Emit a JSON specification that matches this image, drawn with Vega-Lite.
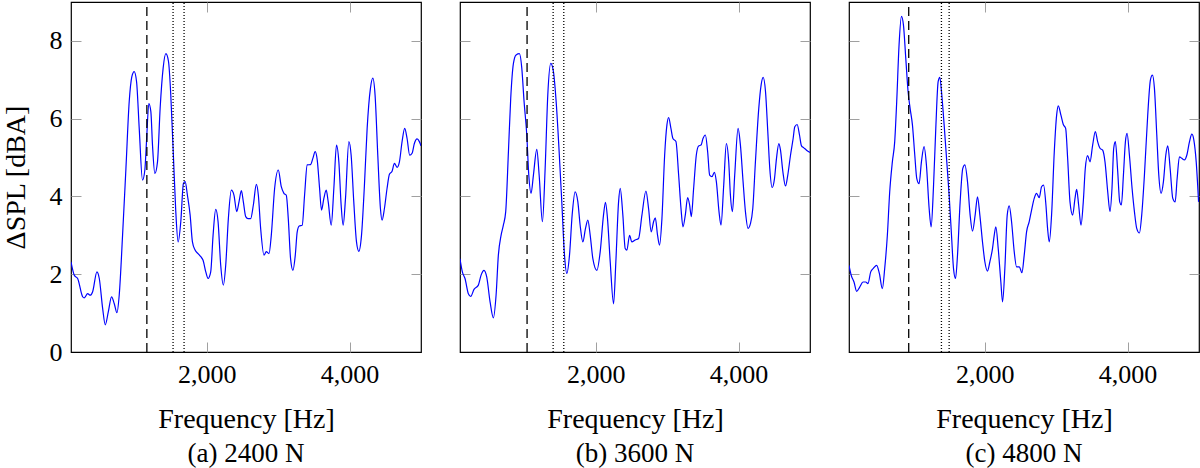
{
  "$schema": "https://vega.github.io/schema/vega-lite/v6.json",
  "description": "Delta SPL spectra for three loads, with marker frequencies.",
  "padding": {"left": 1, "top": 0, "right": 0, "bottom": 0},
  "spacing": 39,
  "bounds": "flush",
  "datasets": {
    "a": [
      {"frequency": 100, "dspl": 2.32}, {"frequency": 147, "dspl": 1.97}, {"frequency": 193, "dspl": 1.89}, {"frequency": 263, "dspl": 1.42},
      {"frequency": 286, "dspl": 1.39}, {"frequency": 333, "dspl": 1.5}, {"frequency": 370, "dspl": 1.46}, {"frequency": 403, "dspl": 1.55},
      {"frequency": 463, "dspl": 2.06}, {"frequency": 496, "dspl": 1.89}, {"frequency": 543, "dspl": 1.12}, {"frequency": 580, "dspl": 0.7},
      {"frequency": 622, "dspl": 1.03}, {"frequency": 668, "dspl": 1.42}, {"frequency": 706, "dspl": 1.24}, {"frequency": 743, "dspl": 1.01},
      {"frequency": 775, "dspl": 1.46}, {"frequency": 822, "dspl": 3.0}, {"frequency": 869, "dspl": 4.72}, {"frequency": 915, "dspl": 6.44},
      {"frequency": 952, "dspl": 7.08}, {"frequency": 985, "dspl": 7.21}, {"frequency": 1018, "dspl": 6.95}, {"frequency": 1055, "dspl": 5.75},
      {"frequency": 1101, "dspl": 4.42}, {"frequency": 1134, "dspl": 4.68}, {"frequency": 1157, "dspl": 5.41}, {"frequency": 1190, "dspl": 6.39},
      {"frequency": 1218, "dspl": 6.18}, {"frequency": 1241, "dspl": 5.32}, {"frequency": 1274, "dspl": 4.59}, {"frequency": 1311, "dspl": 4.89},
      {"frequency": 1348, "dspl": 6.27}, {"frequency": 1390, "dspl": 7.3}, {"frequency": 1428, "dspl": 7.67}, {"frequency": 1465, "dspl": 7.47},
      {"frequency": 1497, "dspl": 6.61}, {"frequency": 1535, "dspl": 4.98}, {"frequency": 1567, "dspl": 3.61}, {"frequency": 1600, "dspl": 2.83},
      {"frequency": 1637, "dspl": 3.35}, {"frequency": 1674, "dspl": 4.33}, {"frequency": 1698, "dspl": 4.38}, {"frequency": 1730, "dspl": 4.03},
      {"frequency": 1768, "dspl": 3.52}, {"frequency": 1800, "dspl": 2.83}, {"frequency": 1837, "dspl": 2.62}, {"frequency": 1879, "dspl": 2.53},
      {"frequency": 1917, "dspl": 2.45}, {"frequency": 1949, "dspl": 2.36}, {"frequency": 1987, "dspl": 2.06}, {"frequency": 2019, "dspl": 1.89},
      {"frequency": 2056, "dspl": 2.06}, {"frequency": 2089, "dspl": 3.0}, {"frequency": 2126, "dspl": 3.67}, {"frequency": 2159, "dspl": 3.35},
      {"frequency": 2196, "dspl": 2.23}, {"frequency": 2233, "dspl": 1.72}, {"frequency": 2266, "dspl": 2.23}, {"frequency": 2303, "dspl": 3.43},
      {"frequency": 2345, "dspl": 4.16}, {"frequency": 2382, "dspl": 4.03}, {"frequency": 2420, "dspl": 3.61}, {"frequency": 2452, "dspl": 3.86},
      {"frequency": 2485, "dspl": 4.15}, {"frequency": 2513, "dspl": 3.86}, {"frequency": 2546, "dspl": 3.48}, {"frequency": 2578, "dspl": 3.43},
      {"frequency": 2615, "dspl": 3.43}, {"frequency": 2653, "dspl": 3.78}, {"frequency": 2695, "dspl": 4.31}, {"frequency": 2723, "dspl": 4.03},
      {"frequency": 2755, "dspl": 3.18}, {"frequency": 2802, "dspl": 2.49}, {"frequency": 2834, "dspl": 2.58}, {"frequency": 2872, "dspl": 2.53},
      {"frequency": 2904, "dspl": 3.0}, {"frequency": 2951, "dspl": 4.21}, {"frequency": 3002, "dspl": 4.68}, {"frequency": 3044, "dspl": 4.25},
      {"frequency": 3081, "dspl": 4.08}, {"frequency": 3114, "dspl": 4.03}, {"frequency": 3142, "dspl": 3.43}, {"frequency": 3174, "dspl": 2.4},
      {"frequency": 3207, "dspl": 2.1}, {"frequency": 3240, "dspl": 2.49}, {"frequency": 3267, "dspl": 3.09}, {"frequency": 3295, "dspl": 3.24},
      {"frequency": 3337, "dspl": 3.26}, {"frequency": 3370, "dspl": 4.03}, {"frequency": 3407, "dspl": 4.81}, {"frequency": 3454, "dspl": 4.82},
      {"frequency": 3486, "dspl": 4.98}, {"frequency": 3519, "dspl": 5.15}, {"frequency": 3547, "dspl": 4.94}, {"frequency": 3580, "dspl": 4.21},
      {"frequency": 3607, "dspl": 3.65}, {"frequency": 3640, "dspl": 3.95}, {"frequency": 3673, "dspl": 4.16}, {"frequency": 3701, "dspl": 3.86},
      {"frequency": 3743, "dspl": 3.26}, {"frequency": 3780, "dspl": 4.21}, {"frequency": 3817, "dspl": 5.32}, {"frequency": 3850, "dspl": 4.89},
      {"frequency": 3882, "dspl": 3.78}, {"frequency": 3910, "dspl": 3.26}, {"frequency": 3943, "dspl": 3.95}, {"frequency": 3990, "dspl": 5.41},
      {"frequency": 4022, "dspl": 5.06}, {"frequency": 4059, "dspl": 3.86}, {"frequency": 4097, "dspl": 2.83}, {"frequency": 4129, "dspl": 2.59},
      {"frequency": 4167, "dspl": 3.0}, {"frequency": 4208, "dspl": 4.29}, {"frequency": 4246, "dspl": 5.75}, {"frequency": 4292, "dspl": 6.78},
      {"frequency": 4325, "dspl": 7.04}, {"frequency": 4357, "dspl": 6.61}, {"frequency": 4395, "dspl": 5.06}, {"frequency": 4432, "dspl": 3.69},
      {"frequency": 4455, "dspl": 3.39}, {"frequency": 4488, "dspl": 3.69}, {"frequency": 4525, "dspl": 4.21}, {"frequency": 4558, "dspl": 4.57},
      {"frequency": 4595, "dspl": 4.65}, {"frequency": 4628, "dspl": 4.85}, {"frequency": 4665, "dspl": 4.75}, {"frequency": 4698, "dspl": 4.89},
      {"frequency": 4735, "dspl": 5.41}, {"frequency": 4772, "dspl": 5.75}, {"frequency": 4805, "dspl": 5.49}, {"frequency": 4842, "dspl": 5.06},
      {"frequency": 4875, "dspl": 5.11}, {"frequency": 4907, "dspl": 5.36}, {"frequency": 4945, "dspl": 5.48}, {"frequency": 4977, "dspl": 5.41},
      {"frequency": 5000, "dspl": 5.3}
    ],
    "b": [
      {"frequency": 100, "dspl": 2.4}, {"frequency": 133, "dspl": 2.06}, {"frequency": 170, "dspl": 1.89}, {"frequency": 217, "dspl": 1.5},
      {"frequency": 250, "dspl": 1.43}, {"frequency": 296, "dspl": 1.61}, {"frequency": 357, "dspl": 1.72}, {"frequency": 394, "dspl": 1.97},
      {"frequency": 436, "dspl": 2.1}, {"frequency": 474, "dspl": 1.93}, {"frequency": 521, "dspl": 1.29}, {"frequency": 567, "dspl": 0.88},
      {"frequency": 605, "dspl": 1.46}, {"frequency": 637, "dspl": 2.49}, {"frequency": 675, "dspl": 3.0}, {"frequency": 707, "dspl": 3.26},
      {"frequency": 740, "dspl": 3.61}, {"frequency": 778, "dspl": 5.15}, {"frequency": 810, "dspl": 6.52}, {"frequency": 848, "dspl": 7.42},
      {"frequency": 885, "dspl": 7.64}, {"frequency": 932, "dspl": 7.67}, {"frequency": 965, "dspl": 7.3}, {"frequency": 997, "dspl": 6.44},
      {"frequency": 1035, "dspl": 5.58}, {"frequency": 1063, "dspl": 4.55}, {"frequency": 1095, "dspl": 4.08}, {"frequency": 1128, "dspl": 4.55},
      {"frequency": 1175, "dspl": 5.21}, {"frequency": 1208, "dspl": 4.55}, {"frequency": 1254, "dspl": 3.35}, {"frequency": 1292, "dspl": 4.72},
      {"frequency": 1329, "dspl": 6.61}, {"frequency": 1371, "dspl": 7.42}, {"frequency": 1408, "dspl": 7.21}, {"frequency": 1446, "dspl": 6.44},
      {"frequency": 1488, "dspl": 5.15}, {"frequency": 1525, "dspl": 3.86}, {"frequency": 1563, "dspl": 2.49}, {"frequency": 1595, "dspl": 2.02},
      {"frequency": 1633, "dspl": 2.49}, {"frequency": 1670, "dspl": 3.52}, {"frequency": 1712, "dspl": 4.12}, {"frequency": 1750, "dspl": 3.86},
      {"frequency": 1782, "dspl": 3.26}, {"frequency": 1820, "dspl": 2.83}, {"frequency": 1857, "dspl": 3.18}, {"frequency": 1890, "dspl": 3.39},
      {"frequency": 1923, "dspl": 3.0}, {"frequency": 1960, "dspl": 2.4}, {"frequency": 2016, "dspl": 2.1}, {"frequency": 2063, "dspl": 2.58},
      {"frequency": 2109, "dspl": 3.52}, {"frequency": 2137, "dspl": 3.85}, {"frequency": 2165, "dspl": 3.43}, {"frequency": 2203, "dspl": 2.32},
      {"frequency": 2250, "dspl": 1.24}, {"frequency": 2282, "dspl": 2.32}, {"frequency": 2320, "dspl": 3.86}, {"frequency": 2343, "dspl": 4.21},
      {"frequency": 2380, "dspl": 3.52}, {"frequency": 2413, "dspl": 2.66}, {"frequency": 2436, "dspl": 2.62}, {"frequency": 2474, "dspl": 3.0},
      {"frequency": 2506, "dspl": 2.83}, {"frequency": 2553, "dspl": 2.88}, {"frequency": 2600, "dspl": 2.92}, {"frequency": 2647, "dspl": 3.52},
      {"frequency": 2703, "dspl": 4.14}, {"frequency": 2740, "dspl": 3.69}, {"frequency": 2777, "dspl": 3.09}, {"frequency": 2810, "dspl": 3.35},
      {"frequency": 2834, "dspl": 3.45}, {"frequency": 2866, "dspl": 3.0}, {"frequency": 2894, "dspl": 2.75}, {"frequency": 2927, "dspl": 3.43},
      {"frequency": 2965, "dspl": 5.06}, {"frequency": 2997, "dspl": 5.84}, {"frequency": 3021, "dspl": 6.03}, {"frequency": 3053, "dspl": 5.75},
      {"frequency": 3081, "dspl": 5.49}, {"frequency": 3123, "dspl": 5.41}, {"frequency": 3161, "dspl": 4.55}, {"frequency": 3194, "dspl": 3.69},
      {"frequency": 3222, "dspl": 3.22}, {"frequency": 3254, "dspl": 3.52}, {"frequency": 3287, "dspl": 3.97}, {"frequency": 3315, "dspl": 3.78},
      {"frequency": 3338, "dspl": 3.48}, {"frequency": 3371, "dspl": 4.21}, {"frequency": 3408, "dspl": 5.06}, {"frequency": 3441, "dspl": 5.3},
      {"frequency": 3474, "dspl": 5.32}, {"frequency": 3502, "dspl": 5.49}, {"frequency": 3535, "dspl": 5.58}, {"frequency": 3567, "dspl": 5.15},
      {"frequency": 3595, "dspl": 4.55}, {"frequency": 3628, "dspl": 4.51}, {"frequency": 3661, "dspl": 4.62}, {"frequency": 3689, "dspl": 4.38},
      {"frequency": 3726, "dspl": 3.61}, {"frequency": 3754, "dspl": 3.26}, {"frequency": 3792, "dspl": 4.29}, {"frequency": 3829, "dspl": 5.36},
      {"frequency": 3862, "dspl": 4.89}, {"frequency": 3886, "dspl": 4.03}, {"frequency": 3914, "dspl": 3.61}, {"frequency": 3946, "dspl": 4.55},
      {"frequency": 3993, "dspl": 5.75}, {"frequency": 4026, "dspl": 5.32}, {"frequency": 4063, "dspl": 4.38}, {"frequency": 4096, "dspl": 3.61},
      {"frequency": 4133, "dspl": 3.18}, {"frequency": 4166, "dspl": 3.3}, {"frequency": 4199, "dspl": 3.69}, {"frequency": 4236, "dspl": 4.89},
      {"frequency": 4283, "dspl": 6.27}, {"frequency": 4316, "dspl": 6.87}, {"frequency": 4344, "dspl": 7.06}, {"frequency": 4377, "dspl": 6.7},
      {"frequency": 4409, "dspl": 5.67}, {"frequency": 4437, "dspl": 4.72}, {"frequency": 4470, "dspl": 4.23}, {"frequency": 4503, "dspl": 4.46},
      {"frequency": 4531, "dspl": 4.98}, {"frequency": 4564, "dspl": 5.36}, {"frequency": 4587, "dspl": 5.19}, {"frequency": 4620, "dspl": 4.64},
      {"frequency": 4657, "dspl": 4.27}, {"frequency": 4689, "dspl": 4.55}, {"frequency": 4727, "dspl": 5.06}, {"frequency": 4764, "dspl": 5.49},
      {"frequency": 4787, "dspl": 5.79}, {"frequency": 4820, "dspl": 5.85}, {"frequency": 4853, "dspl": 5.58}, {"frequency": 4881, "dspl": 5.3},
      {"frequency": 4914, "dspl": 5.25}, {"frequency": 4951, "dspl": 5.19}, {"frequency": 5000, "dspl": 5.13}
    ],
    "c": [
      {"frequency": 100, "dspl": 2.23}, {"frequency": 133, "dspl": 1.96}, {"frequency": 170, "dspl": 1.8}, {"frequency": 207, "dspl": 1.56},
      {"frequency": 250, "dspl": 1.67}, {"frequency": 296, "dspl": 1.8}, {"frequency": 334, "dspl": 1.8}, {"frequency": 366, "dspl": 1.76},
      {"frequency": 404, "dspl": 2.06}, {"frequency": 441, "dspl": 2.15}, {"frequency": 488, "dspl": 2.23}, {"frequency": 525, "dspl": 2.02},
      {"frequency": 567, "dspl": 1.63}, {"frequency": 600, "dspl": 2.15}, {"frequency": 637, "dspl": 3.0}, {"frequency": 670, "dspl": 4.12},
      {"frequency": 707, "dspl": 4.89}, {"frequency": 740, "dspl": 5.41}, {"frequency": 768, "dspl": 6.44}, {"frequency": 801, "dspl": 7.9},
      {"frequency": 834, "dspl": 8.63}, {"frequency": 862, "dspl": 8.41}, {"frequency": 895, "dspl": 7.55}, {"frequency": 927, "dspl": 6.7},
      {"frequency": 955, "dspl": 6.27}, {"frequency": 988, "dspl": 5.84}, {"frequency": 1021, "dspl": 5.06}, {"frequency": 1049, "dspl": 4.46},
      {"frequency": 1081, "dspl": 4.33}, {"frequency": 1114, "dspl": 4.89}, {"frequency": 1151, "dspl": 5.28}, {"frequency": 1184, "dspl": 4.81},
      {"frequency": 1222, "dspl": 3.69}, {"frequency": 1250, "dspl": 3.22}, {"frequency": 1282, "dspl": 4.21}, {"frequency": 1315, "dspl": 5.75},
      {"frequency": 1348, "dspl": 6.95}, {"frequency": 1371, "dspl": 7.06}, {"frequency": 1399, "dspl": 6.61}, {"frequency": 1432, "dspl": 5.84},
      {"frequency": 1469, "dspl": 4.89}, {"frequency": 1502, "dspl": 4.03}, {"frequency": 1535, "dspl": 3.0}, {"frequency": 1563, "dspl": 2.15},
      {"frequency": 1591, "dspl": 1.89}, {"frequency": 1619, "dspl": 2.49}, {"frequency": 1656, "dspl": 3.86}, {"frequency": 1693, "dspl": 4.72},
      {"frequency": 1722, "dspl": 4.81}, {"frequency": 1759, "dspl": 4.38}, {"frequency": 1796, "dspl": 3.52}, {"frequency": 1829, "dspl": 3.11},
      {"frequency": 1866, "dspl": 3.52}, {"frequency": 1899, "dspl": 3.99}, {"frequency": 1932, "dspl": 3.52}, {"frequency": 1969, "dspl": 2.83},
      {"frequency": 2002, "dspl": 2.32}, {"frequency": 2039, "dspl": 2.08}, {"frequency": 2072, "dspl": 2.32}, {"frequency": 2109, "dspl": 2.66},
      {"frequency": 2133, "dspl": 3.0}, {"frequency": 2156, "dspl": 3.22}, {"frequency": 2189, "dspl": 2.66}, {"frequency": 2226, "dspl": 1.8},
      {"frequency": 2250, "dspl": 1.29}, {"frequency": 2282, "dspl": 2.15}, {"frequency": 2315, "dspl": 3.52}, {"frequency": 2343, "dspl": 3.76},
      {"frequency": 2376, "dspl": 3.35}, {"frequency": 2413, "dspl": 2.58}, {"frequency": 2446, "dspl": 2.19}, {"frequency": 2484, "dspl": 2.19},
      {"frequency": 2521, "dspl": 2.04}, {"frequency": 2553, "dspl": 2.49}, {"frequency": 2586, "dspl": 3.09}, {"frequency": 2623, "dspl": 3.35},
      {"frequency": 2656, "dspl": 3.65}, {"frequency": 2693, "dspl": 3.95}, {"frequency": 2726, "dspl": 4.08}, {"frequency": 2763, "dspl": 3.97},
      {"frequency": 2796, "dspl": 4.25}, {"frequency": 2824, "dspl": 4.29}, {"frequency": 2857, "dspl": 3.78}, {"frequency": 2880, "dspl": 3.18},
      {"frequency": 2904, "dspl": 2.83}, {"frequency": 2936, "dspl": 3.52}, {"frequency": 2974, "dspl": 5.15}, {"frequency": 3007, "dspl": 6.09},
      {"frequency": 3030, "dspl": 6.33}, {"frequency": 3067, "dspl": 6.09}, {"frequency": 3100, "dspl": 5.85}, {"frequency": 3133, "dspl": 5.75},
      {"frequency": 3161, "dspl": 4.98}, {"frequency": 3194, "dspl": 3.86}, {"frequency": 3231, "dspl": 3.52}, {"frequency": 3264, "dspl": 3.95},
      {"frequency": 3287, "dspl": 4.18}, {"frequency": 3315, "dspl": 3.78}, {"frequency": 3348, "dspl": 3.26}, {"frequency": 3380, "dspl": 3.86},
      {"frequency": 3408, "dspl": 4.72}, {"frequency": 3441, "dspl": 5.05}, {"frequency": 3474, "dspl": 4.89}, {"frequency": 3511, "dspl": 5.32},
      {"frequency": 3549, "dspl": 5.67}, {"frequency": 3581, "dspl": 5.41}, {"frequency": 3614, "dspl": 5.24}, {"frequency": 3651, "dspl": 5.19},
      {"frequency": 3684, "dspl": 4.89}, {"frequency": 3722, "dspl": 4.12}, {"frequency": 3754, "dspl": 3.61}, {"frequency": 3782, "dspl": 4.21},
      {"frequency": 3806, "dspl": 5.24}, {"frequency": 3829, "dspl": 5.41}, {"frequency": 3862, "dspl": 4.64}, {"frequency": 3890, "dspl": 3.86},
      {"frequency": 3913, "dspl": 3.78}, {"frequency": 3942, "dspl": 4.55}, {"frequency": 3970, "dspl": 5.41}, {"frequency": 3993, "dspl": 5.62},
      {"frequency": 4026, "dspl": 5.06}, {"frequency": 4063, "dspl": 4.21}, {"frequency": 4096, "dspl": 3.61}, {"frequency": 4128, "dspl": 3.18},
      {"frequency": 4166, "dspl": 3.06}, {"frequency": 4198, "dspl": 3.52}, {"frequency": 4236, "dspl": 4.55}, {"frequency": 4282, "dspl": 6.09},
      {"frequency": 4320, "dspl": 7.0}, {"frequency": 4348, "dspl": 7.12}, {"frequency": 4376, "dspl": 6.78}, {"frequency": 4409, "dspl": 5.58},
      {"frequency": 4437, "dspl": 4.55}, {"frequency": 4469, "dspl": 4.08}, {"frequency": 4502, "dspl": 4.38}, {"frequency": 4535, "dspl": 5.06},
      {"frequency": 4563, "dspl": 5.3}, {"frequency": 4596, "dspl": 4.72}, {"frequency": 4633, "dspl": 3.95}, {"frequency": 4666, "dspl": 3.86},
      {"frequency": 4694, "dspl": 4.46}, {"frequency": 4726, "dspl": 5.02}, {"frequency": 4759, "dspl": 4.98}, {"frequency": 4797, "dspl": 4.94},
      {"frequency": 4829, "dspl": 5.06}, {"frequency": 4867, "dspl": 5.41}, {"frequency": 4900, "dspl": 5.6}, {"frequency": 4928, "dspl": 5.45},
      {"frequency": 4961, "dspl": 4.89}, {"frequency": 4994, "dspl": 3.86}
    ],
    "markers": [
      {"panel": "a", "frequency": 1162, "kind": "dashed"}, {"panel": "a", "frequency": 1529, "kind": "dotted"}, {"panel": "a", "frequency": 1683, "kind": "dotted"},
      {"panel": "b", "frequency": 1039, "kind": "dashed"}, {"panel": "b", "frequency": 1404, "kind": "dotted"}, {"panel": "b", "frequency": 1553, "kind": "dotted"},
      {"panel": "c", "frequency": 936, "kind": "dashed"}, {"panel": "c", "frequency": 1394, "kind": "dotted"}, {"panel": "c", "frequency": 1502, "kind": "dotted"}
    ]
  },
  "hconcat": [
    {
      "width": 350,
      "height": 350,
      "title": "(a) 2400 N",
      "layer": [
        {
          "data": {"name": "a"},
          "mark": {"type": "line", "color": "#0000ff", "strokeWidth": 1.2, "interpolate": "monotone", "clip": true},
          "encoding": {
            "x": {"field": "frequency", "type": "quantitative", "scale": {"domain": [100, 5000], "nice": false, "zero": false},
                  "axis": {"orient": "bottom", "values": [2000, 4000], "format": ",.0f", "title": "Frequency [Hz]"}},
            "y": {"field": "dspl", "type": "quantitative", "scale": {"domain": [0, 9], "nice": false},
                  "axis": {"orient": "left", "values": [0, 2, 4, 6, 8], "format": "d", "title": "ΔSPL [dBA]",
                           "tickOpacity": {"condition": {"test": "datum.value === 0", "value": 0}, "value": 1}}}
          }
        },
        {
          "data": {"name": "markers"},
          "transform": [{"filter": "datum.panel === 'a'"}],
          "mark": {"type": "rule", "color": "black", "strokeWidth": 1.3},
          "encoding": {
            "x": {"field": "frequency", "type": "quantitative", "axis": {"orient": "top", "values": [2000, 4000], "labels": false, "title": null}},
            "y": {"datum": 0, "type": "quantitative", "axis": {"orient": "right", "values": [2, 4, 6, 8], "labels": false, "title": null}},
            "y2": {"datum": 9},
            "strokeDash": {"field": "kind", "type": "nominal", "scale": {"domain": ["dashed", "dotted"], "range": [[9, 5], [1, 2]]}, "legend": null}
          }
        }
      ],
      "resolve": {"axis": {"x": "independent", "y": "independent"}}
    },
    {
      "width": 350,
      "height": 350,
      "title": "(b) 3600 N",
      "layer": [
        {
          "data": {"name": "b"},
          "mark": {"type": "line", "color": "#0000ff", "strokeWidth": 1.2, "interpolate": "monotone", "clip": true},
          "encoding": {
            "x": {"field": "frequency", "type": "quantitative", "scale": {"domain": [100, 5000], "nice": false, "zero": false},
                  "axis": {"orient": "bottom", "values": [2000, 4000], "format": ",.0f", "title": "Frequency [Hz]"}},
            "y": {"field": "dspl", "type": "quantitative", "scale": {"domain": [0, 9], "nice": false},
                  "axis": {"orient": "left", "values": [2, 4, 6, 8], "labels": false, "title": null}}
          }
        },
        {
          "data": {"name": "markers"},
          "transform": [{"filter": "datum.panel === 'b'"}],
          "mark": {"type": "rule", "color": "black", "strokeWidth": 1.3},
          "encoding": {
            "x": {"field": "frequency", "type": "quantitative", "axis": {"orient": "top", "values": [2000, 4000], "labels": false, "title": null}},
            "y": {"datum": 0, "type": "quantitative", "axis": {"orient": "right", "values": [2, 4, 6, 8], "labels": false, "title": null}},
            "y2": {"datum": 9},
            "strokeDash": {"field": "kind", "type": "nominal", "scale": {"domain": ["dashed", "dotted"], "range": [[9, 5], [1, 2]]}, "legend": null}
          }
        }
      ],
      "resolve": {"axis": {"x": "independent", "y": "independent"}}
    },
    {
      "width": 350,
      "height": 350,
      "title": "(c) 4800 N",
      "layer": [
        {
          "data": {"name": "c"},
          "mark": {"type": "line", "color": "#0000ff", "strokeWidth": 1.2, "interpolate": "monotone", "clip": true},
          "encoding": {
            "x": {"field": "frequency", "type": "quantitative", "scale": {"domain": [100, 5000], "nice": false, "zero": false},
                  "axis": {"orient": "bottom", "values": [2000, 4000], "format": ",.0f", "title": "Frequency [Hz]"}},
            "y": {"field": "dspl", "type": "quantitative", "scale": {"domain": [0, 9], "nice": false},
                  "axis": {"orient": "left", "values": [2, 4, 6, 8], "labels": false, "title": null}}
          }
        },
        {
          "data": {"name": "markers"},
          "transform": [{"filter": "datum.panel === 'c'"}],
          "mark": {"type": "rule", "color": "black", "strokeWidth": 1.3},
          "encoding": {
            "x": {"field": "frequency", "type": "quantitative", "axis": {"orient": "top", "values": [2000, 4000], "labels": false, "title": null}},
            "y": {"datum": 0, "type": "quantitative", "axis": {"orient": "right", "values": [2, 4, 6, 8], "labels": false, "title": null}},
            "y2": {"datum": 9},
            "strokeDash": {"field": "kind", "type": "nominal", "scale": {"domain": ["dashed", "dotted"], "range": [[9, 5], [1, 2]]}, "legend": null}
          }
        }
      ],
      "resolve": {"axis": {"x": "independent", "y": "independent"}}
    }
  ],
  "config": {
    "font": "Liberation Serif",
    "view": {"stroke": "black", "strokeWidth": 1.2},
    "axis": {
      "domain": false, "grid": false,
      "tickColor": "#a0a0a0", "tickSize": -10, "tickWidth": 1,
      "labelFont": "Liberation Serif", "labelFontSize": 26, "labelColor": "black",
      "titleFont": "Liberation Serif", "titleFontSize": 28, "titleFontWeight": "normal", "titleColor": "black"
    },
    "axisX": {"labelPadding": 19, "titlePadding": 18},
    "axisY": {"labelPadding": 19, "titlePadding": 19},
    "title": {"font": "Liberation Serif", "fontSize": 27, "fontWeight": "normal", "orient": "bottom", "offset": 8, "color": "black"}
  }
}
